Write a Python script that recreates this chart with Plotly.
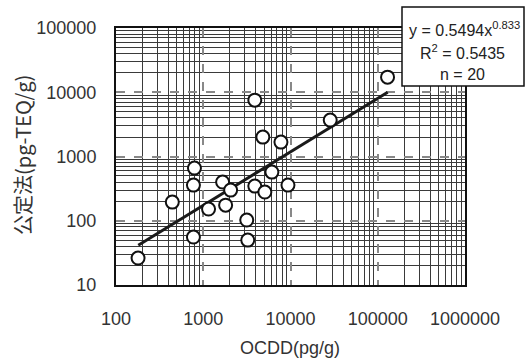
import plotly.graph_objects as go

# Data
ocdd = [179, 442, 772, 772, 793, 1150, 1667, 1805, 2061, 3152,
        3236, 3898, 3898, 4820, 5083, 6120, 7771, 9355, 28530, 129500]
teq = [26.3, 195, 55.8, 359, 660, 152, 400, 175, 300, 102.5,
       50, 7540, 346, 2003, 280, 572, 1675, 359, 3683, 17180]

trend_x = [180, 130000]
trend_y = [41.5, 9990]

x_ticks = [100, 1000, 10000, 100000, 1000000]
x_ticklabels = ["100", "1000", "10000", "100000", "1000000"]
y_ticks = [10, 100, 1000, 10000, 100000]
y_ticklabels = ["10", "100", "1000", "10000", "100000"]

eq_lines = ["y = 0.5494x<sup>0.833</sup>", "R<sup>2</sup> = 0.5435", "n = 20"]

x_minor = [m * d for d in [100, 1000, 10000, 100000] for m in range(2, 10)]
y_minor = [m * d for d in [10, 100, 1000, 10000] for m in range(2, 10)]

W, H = 530, 361
L, R, T, B = 116, 465, 28, 285
pw, ph = R - L, B - T


def px(x):
    return (x - L) / pw


def py(y):
    return (B - y) / ph


fig = go.Figure()
fig.add_trace(go.Scatter(x=trend_x, y=trend_y, mode="lines",
                         line=dict(color="#1a1a1a", width=3), showlegend=False))
fig.add_trace(go.Scatter(x=ocdd, y=teq, mode="markers",
                         marker=dict(symbol="circle", size=13, color="white",
                                     line=dict(color="#111", width=2)),
                         showlegend=False))

tickfont = dict(family="Liberation Sans, Arial, sans-serif", size=18, color="#333")

fig.update_xaxes(type="log", range=[2, 6], tickvals=x_ticks, ticktext=x_ticklabels,
                 tickfont=tickfont, showgrid=True, gridcolor="#888", griddash="dash",
                 gridwidth=1.5, showline=True, linecolor="#111", linewidth=2, mirror=True,
                 ticks="", ticklabelstandoff=16, zeroline=False,
                 minor=dict(tickvals=x_minor, showgrid=True, gridcolor="#3a3a3a",
                            griddash="solid", gridwidth=1.4, ticks=""))
fig.update_yaxes(type="log", range=[1, 5], tickvals=y_ticks, ticktext=y_ticklabels,
                 tickfont=tickfont, showgrid=True, gridcolor="#888", griddash="dash",
                 gridwidth=1.5, showline=True, linecolor="#111", linewidth=2, mirror=True,
                 ticks="", ticklabelstandoff=14, zeroline=False,
                 minor=dict(tickvals=y_minor, showgrid=True, gridcolor="#3a3a3a",
                            griddash="solid", gridwidth=1.4, ticks=""))

fig.add_shape(type="rect", xref="paper", yref="paper",
              x0=px(402), x1=px(524), y0=py(86), y1=py(7),
              line=dict(color="#111", width=1.5), fillcolor="white", layer="above")

annfont = dict(family="Liberation Sans, Arial, sans-serif", size=16, color="#222")
for text, xc, yc in zip(eq_lines, [464, 462, 462], [29, 52, 74]):
    fig.add_annotation(text=text, xref="paper", yref="paper", x=px(xc), y=py(yc),
                       xanchor="center", yanchor="middle", showarrow=False, font=annfont)

fig.add_annotation(text="公定法(pg-TEQ/g)", xref="paper", yref="paper",
                   x=px(22), y=py(155), textangle=-90, showarrow=False,
                   xanchor="center", yanchor="middle",
                   font=dict(family="Noto Sans CJK JP, Liberation Sans, sans-serif",
                             size=20, color="#333"))
fig.add_annotation(text="OCDD(pg/g)", xref="paper", yref="paper",
                   x=px(290), y=py(348), showarrow=False,
                   xanchor="center", yanchor="middle",
                   font=dict(family="Liberation Sans, Arial, sans-serif", size=18, color="#333"))

fig.update_layout(width=W, height=H, margin=dict(l=L, r=W - R, t=T, b=H - B),
                  paper_bgcolor="white", plot_bgcolor="white")

fig.write_html("out.html", config=dict(displayModeBar=False),
               post_script="document.body.style.margin='0';document.body.style.overflow='hidden';")
